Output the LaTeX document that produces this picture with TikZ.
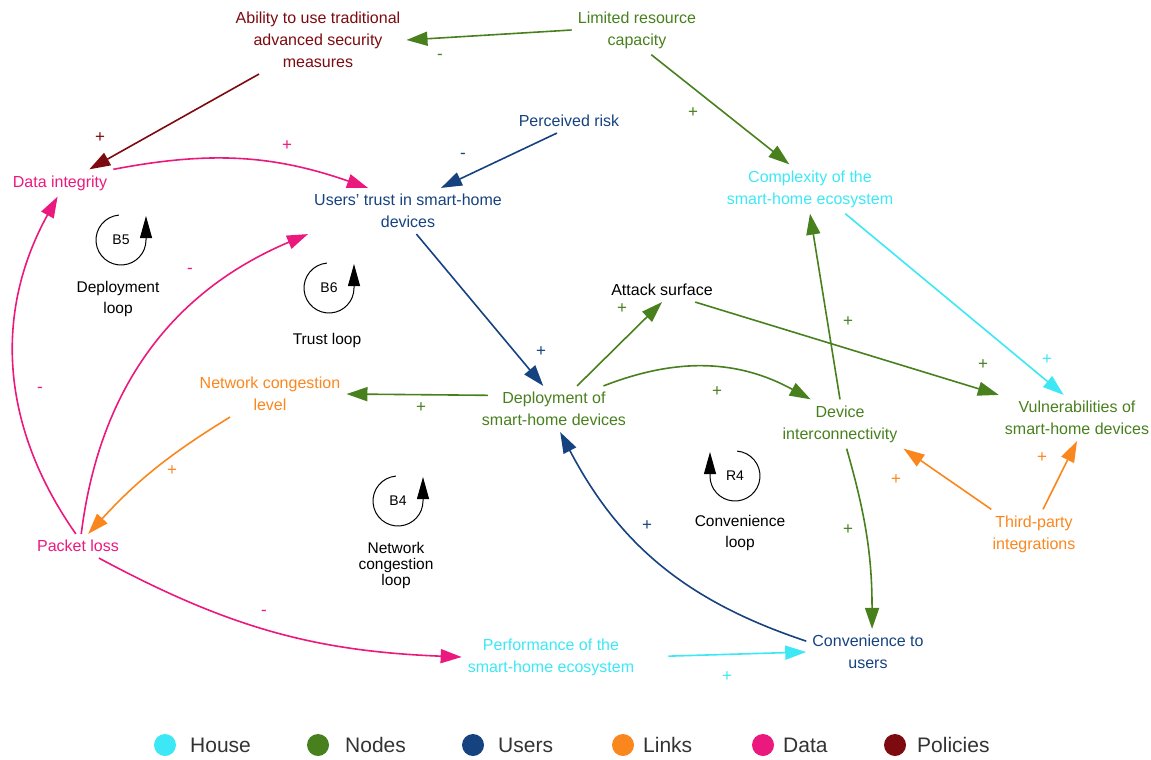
\documentclass[tikz,border=0pt]{standalone}
\usepackage{fontspec}
\setmainfont{Liberation Sans}
\usetikzlibrary{arrows.meta}

\definecolor{chouse}{RGB}{60,232,245}
\definecolor{cnodes}{RGB}{72,128,30}
\definecolor{cusers}{RGB}{22,66,128}
\definecolor{clinks}{RGB}{250,135,30}
\definecolor{cdata}{RGB}{235,25,125}
\definecolor{cpolicies}{RGB}{125,10,15}

\begin{document}
\begin{tikzpicture}[
    x=1pt,
    y=1pt,
    factor/.style={
        align=center,
        inner sep=6pt,
        font=\fontsize{16}{22}\selectfont
    },
    link/.style={
        line width=1.6pt,
        -{Triangle[length=21pt,width=14pt]}
    },
    sign/.style={
        inner sep=0pt,
        font=\fontsize{17}{18}\selectfont
    },
    loopid/.style={font=\fontsize{14}{16}\selectfont},
    loopline/.style={
        line width=1pt,
        -{Triangle[length=22pt,width=12pt]}
    },
    loopname/.style={
        align=center,
        font=\fontsize{15.5}{21}\selectfont
    },
    legdot/.style={
        circle,
        minimum size=22pt,
        inner sep=0pt
    },
    legend/.style={
        anchor=west,
        inner sep=0pt,
        text=black!80,
        font=\fontsize{21}{24}\selectfont
    }
]

\useasboundingbox (0,0) rectangle (1151,-760);

% Variables of the diagram
\node[factor, text=cpolicies] (ability) at (318,-40) {Ability to use traditional\\advanced security\\measures};
\node[factor, text=cnodes] (limres) at (637,-30) {Limited resource\\capacity};
\node[factor, text=cusers] (risk) at (569,-121) {Perceived risk};
\node[factor, text=cdata] (integ) at (60,-183) {Data integrity};
\node[factor, text=cusers] (trust) at (408,-211) {Users' trust in smart-home\\devices};
\node[factor, text=chouse] (complex) at (810,-189) {Complexity of the\\smart-home ecosystem};
\node[factor, text=black] (attack) at (662,-290) {Attack surface};
\node[factor, text=cnodes] (deploy) at (554,-409) {Deployment of\\smart-home devices};
\node[factor, text=clinks] (congest) at (270,-394) {Network congestion\\level};
\node[factor, text=cnodes] (interc) at (840,-424) {Device\\interconnectivity};
\node[factor, text=cnodes] (vuln) at (1077,-418) {Vulnerabilities of\\smart-home devices};
\node[factor, text=clinks] (third) at (1034,-534) {Third-party\\integrations};
\node[factor, text=cdata] (ploss) at (78,-546) {Packet loss};
\node[factor, text=chouse] (perf) at (551,-657) {Performance of the\\smart-home ecosystem};
\node[factor, text=cusers] (conv) at (868,-652) {Convenience to\\users};

% Causal links
\draw[link, cnodes] (limres.west) -- (ability.east);
\draw[link, cnodes] (limres.-60) -- (complex.130);
\draw[link, cpolicies] (ability.-150) -- (integ.25);
\draw[link, cdata] (integ.north east) to[bend left=15] (trust.150);
\draw[link, cusers] (risk.-135) -- (trust.35);
\draw[link, cusers] (trust.-70) -- (deploy.115);
\draw[link, chouse] (complex.-35) -- (vuln.120);
\draw[link, cnodes] (attack.-20) -- (vuln.north west);
\draw[link, cnodes] (interc.north) -- (complex.south);
\draw[link, cnodes] (deploy.45) -- (attack.south);
\draw[link, cnodes] (deploy.25) to[bend left=25] (interc.140);
\draw[link, cnodes, shorten <=-12pt] (deploy.170) -- (congest.east);
\draw[link, clinks] (congest.-150) to[bend right=8] (ploss.50);
\draw[link, cdata] (ploss.100) to[bend left=32] (integ.-100);
\draw[link, cdata] (ploss.75) to[bend left=30] (trust.south west);
\draw[link, cdata] (ploss.-30) to[bend right=13] (perf.west);
\draw[link, chouse, shorten <=28pt] (perf.east) -- (conv.west);
\draw[link, cusers] (conv.170) to[bend left=22] (deploy.-75);
\draw[link, cnodes] (interc.-75) to[bend left=8] (conv.80);
\draw[link, clinks] (third.150) -- (interc.south east);
\draw[link, clinks] (third.70) -- (vuln.south);

% Polarity of each link
\foreach \x/\y/\col/\sg [count=\i] in {
    440/57/cnodes/-, 693/113/cnodes/+, 100/138/cpolicies/+,
    287/146/cdata/+, 463/156/cusers/-, 541/352/cusers/+,
    1047/360/chouse/+, 983/365/cnodes/+, 848/322/cnodes/+,
    622/309/cnodes/+, 717/392/cnodes/+, 421/408/cnodes/+,
    172/471/clinks/+, 40/390/cdata/-, 190/271/cdata/-,
    264/613/cdata/-, 727/677/chouse/+, 647/526/cusers/+,
    848/530/cnodes/+, 896/480/clinks/+, 1042/458/clinks/+
}{
    \node[sign, text=\col] (sign\i) at (\x,-\y) {\sg};
}

% Balancing loops
\foreach \cx/\cy/\lid in {121/240/B5, 329/288/B6, 398/501/B4}{
    \node[loopid] (loop\lid) at (\cx,-\cy) {\lid};
    \draw[loopline] (\cx,-\cy) ++(95:25) arc[start angle=95, end angle=360, radius=25] -- ++(0,24);
}

% Reinforcing loop
\node[loopid] (loopR4) at (735,-476) {R4};
\draw[loopline] (735,-476) ++(85:25) arc[start angle=85, end angle=-180, radius=25] -- ++(0,24);

\node[loopname] (nameB5) at (118,-299) {Deployment\\loop};
\node[loopname] (nameB6) at (327,-340) {Trust loop};
\node[loopname, font=\fontsize{15.5}{16}\selectfont] (nameB4) at (396,-565) {Network\\congestion\\loop};
\node[loopname] (nameR4) at (740,-533) {Convenience\\loop};

% Legend
\foreach \x/\tx/\col/\txt in {
    165/190/chouse/House, 318/345/cnodes/Nodes, 473/498/cusers/Users,
    623/643/clinks/Links, 763/783/cdata/Data, 895/917/cpolicies/Policies
}{
    \node[legdot, fill=\col] (dot\txt) at (\x,-745) {};
    \node[legend] (key\txt) at (\tx,-745) {\txt};
}
\end{tikzpicture}
\end{document}
